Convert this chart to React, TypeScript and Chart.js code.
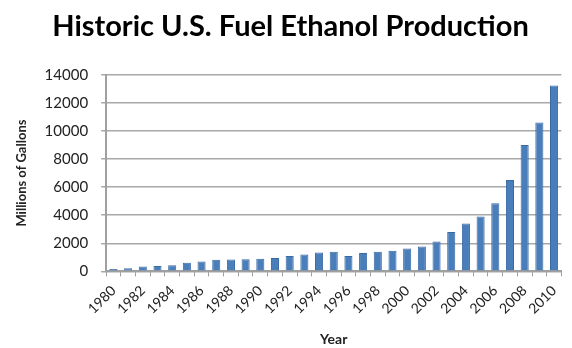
import React, { useEffect, useRef } from "react";
import { Chart, registerables } from "chart.js";

Chart.register(...registerables);

const years = [
  "1980", "1981", "1982", "1983", "1984", "1985", "1986", "1987", "1988", "1989",
  "1990", "1991", "1992", "1993", "1994", "1995", "1996", "1997", "1998", "1999",
  "2000", "2001", "2002", "2003", "2004", "2005", "2006", "2007", "2008", "2009", "2010",
];
const production = [
  175, 215, 350, 375, 430, 610, 710, 830, 845, 870,
  900, 950, 1100, 1200, 1350, 1400, 1100, 1300, 1400, 1470,
  1630, 1770, 2130, 2800, 3400, 3904, 4855, 6500, 9000, 10600, 13230,
];
const titleText = "Historic U.S. Fuel Ethanol Production";
const yTitle = "Millions of Gallons";
const xTitle = "Year";

const FONT = "Lato, 'Open Sans', sans-serif";

export default function App() {
  const ref = useRef<HTMLCanvasElement | null>(null);
  useEffect(() => {
    document.body.style.margin = "0";
    const chart = new Chart(ref.current!, {
      type: "bar",
      data: {
        labels: years,
        datasets: [
          {
            data: production,
            backgroundColor: "#4a7ebb",
            borderColor: "#3a6aa3",
            borderWidth: 1,
            barPercentage: 0.55,
            categoryPercentage: 1,
          },
        ],
      },
      options: {
        animation: false,
        responsive: false,
        maintainAspectRatio: false,
        layout: { padding: { left: 14, right: 5, top: 0, bottom: 0 } },
        plugins: {
          legend: { display: false },
          tooltip: { enabled: false },
          title: {
            display: true,
            text: titleText,
            color: "#000",
            font: { family: FONT, size: 29, weight: "bold" },
            padding: { top: 9, bottom: 31 },
          },
        },
        scales: {
          x: {
            grid: {
              display: true,
              drawOnChartArea: false,
              drawTicks: true,
              tickLength: 5,
              color: "#a0a0a0",
              offset: true,
            },
            border: { color: "#a0a0a0", width: 2 },
            ticks: {
              autoSkip: false,
              maxRotation: 45,
              minRotation: 45,
              color: "#222",
              padding: 6,
              font: { family: FONT, size: 14 },
              callback: (_v: any, i: number) => (i % 2 === 0 ? years[i] : ""),
            },
            title: {
              display: true,
              text: xTitle,
              color: "#222",
              font: { family: FONT, size: 14, weight: "bold" },
              padding: { top: 8, bottom: 0 },
            },
          },
          y: {
            min: 0,
            max: 14000,
            ticks: {
              stepSize: 2000,
              color: "#222",
              padding: 13,
              font: { family: FONT, size: 15 },
              callback: (v: any) => String(v),
            },
            grid: {
              color: "#a8a8a8",
              lineWidth: 1.5,
              tickLength: 5,
            },
            border: { color: "#a0a0a0", width: 2 },
            title: {
              display: true,
              text: yTitle,
              color: "#222",
              font: { family: FONT, size: 13, weight: "bold" },
              padding: { top: 0, bottom: 2 },
            },
          },
        },
      },
    });
    return () => chart.destroy();
  }, []);
  return (
    <div style={{ width: 572, height: 348, background: "#fff" }}>
      <canvas ref={ref} width={572} height={348} />
    </div>
  );
}
